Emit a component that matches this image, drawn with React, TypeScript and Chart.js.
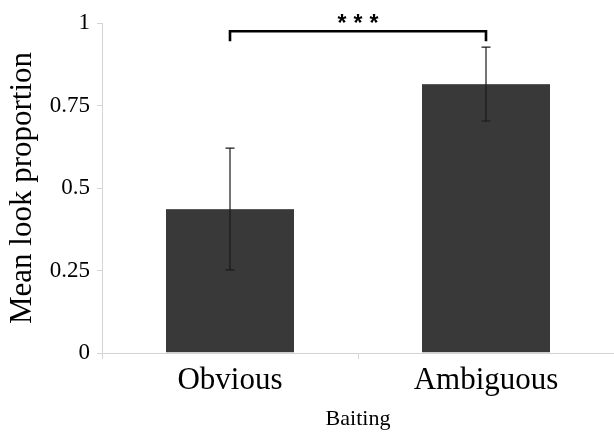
import React, { useEffect, useRef } from "react";
import { Chart, registerables } from "chart.js";

Chart.register(...registerables);

const categories = ["Obvious", "Ambiguous"];
const meanValues = [0.436, 0.815];
const errorLow = [0.252, 0.703];
const errorHigh = [0.621, 0.927];
const yTickValues = [0, 0.25, 0.5, 0.75, 1];
const yTickLabels = ["0", "0.25", "0.5", "0.75", "1"];
const bracketPair = [0, 1];
const bracketLevel = 0.975;
const bracketEnd = 0.945;
const bracketLabel = "***";

const SERIF = "'Liberation Serif', 'Times New Roman', serif";

const overlayPlugin = {
  id: "overlay",
  afterDatasetsDraw(chart: any) {
    const ctx = chart.ctx;
    const x = chart.scales.x;
    const y = chart.scales.y;
    ctx.save();
    // error bars
    ctx.strokeStyle = "#1a1a1a";
    ctx.lineWidth = 1.2;
    for (let i = 0; i < categories.length; i++) {
      const cx = x.getPixelForValue(i);
      const yl = y.getPixelForValue(errorLow[i]);
      const yh = y.getPixelForValue(errorHigh[i]);
      ctx.beginPath();
      ctx.moveTo(cx, yl);
      ctx.lineTo(cx, yh);
      ctx.moveTo(cx - 4.5, yl);
      ctx.lineTo(cx + 4.5, yl);
      ctx.moveTo(cx - 4.5, yh);
      ctx.lineTo(cx + 4.5, yh);
      ctx.stroke();
    }
    // significance bracket
    const x1 = x.getPixelForValue(bracketPair[0]);
    const x2 = x.getPixelForValue(bracketPair[1]);
    const yb = y.getPixelForValue(bracketLevel);
    const ye = y.getPixelForValue(bracketEnd);
    ctx.strokeStyle = "#000";
    ctx.lineWidth = 2.6;
    ctx.lineJoin = "miter";
    ctx.beginPath();
    ctx.moveTo(x1, ye);
    ctx.lineTo(x1, yb);
    ctx.lineTo(x2, yb);
    ctx.lineTo(x2, ye);
    ctx.stroke();
    // stars
    ctx.fillStyle = "#000";
    ctx.font = "bold 23px 'Liberation Sans', Arial, sans-serif";
    ctx.textAlign = "center";
    ctx.textBaseline = "middle";
    const mid = (x1 + x2) / 2;
    const chars = bracketLabel.split("");
    const step = 16;
    chars.forEach((c, k) => {
      const off = (k - (chars.length - 1) / 2) * step;
      ctx.fillText(c, mid + off, yb - 7);
    });
    ctx.restore();
  },
};

export default function App() {
  const ref = useRef<HTMLCanvasElement | null>(null);
  useEffect(() => {
    if (!ref.current) return;
    const chart = new Chart(ref.current, {
      type: "bar",
      data: {
        labels: categories,
        datasets: [
          {
            data: meanValues,
            backgroundColor: "#393939",
            borderColor: "#5a5a5a",
            borderWidth: { top: 1, left: 0, right: 0, bottom: 0 } as any,
            barPercentage: 0.5,
            categoryPercentage: 1,
          },
        ],
      },
      options: {
        animation: false,
        responsive: false,
        maintainAspectRatio: false,
        layout: { padding: { top: 23, right: 0, left: 0, bottom: 0 } },
        plugins: {
          legend: { display: false },
          tooltip: { enabled: false },
        },
        scales: {
          x: {
            grid: {
              drawOnChartArea: false,
              drawTicks: true,
              tickLength: 6,
              color: "#d4d4d4",
              offset: true,
            },
            border: { color: "#d4d4d4", width: 1 },
            ticks: {
              color: "#000",
              font: { family: SERIF, size: 31 },
              padding: 3,
            },
            title: {
              display: true,
              text: "Baiting",
              color: "#000",
              font: { family: SERIF, size: 22 },
              padding: { top: 2, bottom: 0 },
            },
            afterFit(scale: any) {
              scale.height = 79;
            },
          },
          y: {
            min: 0,
            max: 1,
            afterBuildTicks(scale: any) {
              scale.ticks = yTickValues.map((v) => ({ value: v }));
            },
            grid: {
              drawOnChartArea: false,
              drawTicks: true,
              tickLength: 5,
              color: "#d4d4d4",
            },
            border: { color: "#d4d4d4", width: 1 },
            ticks: {
              color: "#000",
              font: { family: SERIF, size: 23 },
              padding: 7,
              callback: (_v: any, i: number) => yTickLabels[i],
            },
            title: {
              display: true,
              text: "Mean look proportion",
              color: "#000",
              font: { family: SERIF, size: 31 },
              padding: { top: 4, bottom: 0 },
            },
            afterFit(scale: any) {
              scale.width = 102;
            },
          },
        },
      },
      plugins: [overlayPlugin],
    });
    return () => chart.destroy();
  }, []);
  return (
    <div style={{ position: "absolute", left: 0, top: 0, width: 614, height: 432, background: "#fff" }}>
      <canvas ref={ref} width={614} height={432} style={{ display: "block" }} />
    </div>
  );
}
